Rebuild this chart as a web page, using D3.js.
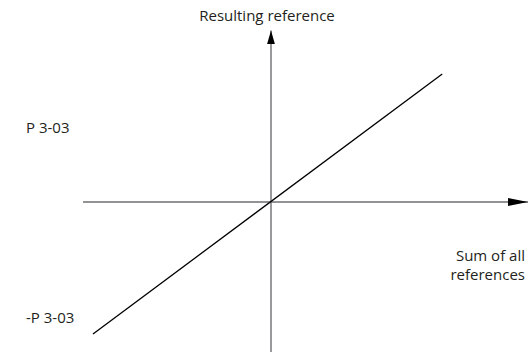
<!DOCTYPE html>
<html>
<head>
<meta charset="utf-8">
<script src="https://cdn.jsdelivr.net/npm/d3@7"></script>
<style>
  body { margin: 0; background: #fff; }
  svg text { font-family: "Open Sans", "Noto Sans", sans-serif; font-size: 15px; fill: #231f20; }
</style>
</head>
<body>
<svg id="chart" width="529" height="352"></svg>
<script>
// characteristic: resulting reference vs. sum of all references
var lineX = [-1, 0.962];
var lineY = [-1, 0.97];

// axis extents (in chart units)
var xAxisExtent = [-1.056, 1.444];
var yAxisExtent = [-1.14, 1.30];

// level labels on the left
var levelNames = ["P 3-03", "-P 3-03"];
var levelValues = [0.56, -0.88];

var xTitle = ["Sum of all", "references"];
var yTitle = "Resulting reference";

var svg = d3.select("#chart");

var x = d3.scaleLinear().domain([-1, 1]).range([93, 449]),
    y = d3.scaleLinear().domain([-1, 1]).range([334, 70]);

var defs = svg.append("defs");
defs.append("marker")
    .attr("id", "arrX")
    .attr("viewBox", "0 0 20 8")
    .attr("refX", 20).attr("refY", 4)
    .attr("markerWidth", 20).attr("markerHeight", 8)
    .attr("markerUnits", "userSpaceOnUse")
    .attr("orient", "auto")
  .append("path")
    .attr("d", "M0,0L20,4L0,8Z")
    .attr("fill", "#000");
defs.append("marker")
    .attr("id", "arrY")
    .attr("viewBox", "0 0 14 8")
    .attr("refX", 14).attr("refY", 4)
    .attr("markerWidth", 14).attr("markerHeight", 8)
    .attr("markerUnits", "userSpaceOnUse")
    .attr("orient", "auto")
  .append("path")
    .attr("d", "M0,0L14,4L0,8Z")
    .attr("fill", "#000");

// axes
svg.append("line")
    .attr("x1", x(xAxisExtent[0])).attr("x2", x(xAxisExtent[1]))
    .attr("y1", y(0)).attr("y2", y(0))
    .attr("stroke", "#6d6e71").attr("stroke-width", 1.4)
    .attr("marker-end", "url(#arrX)");

svg.append("line")
    .attr("x1", x(0)).attr("x2", x(0))
    .attr("y1", y(yAxisExtent[0])).attr("y2", y(yAxisExtent[1]))
    .attr("stroke", "#6d6e71").attr("stroke-width", 1.4)
    .attr("marker-end", "url(#arrY)");

// characteristic line
var line = d3.line()
    .x(function(d) { return x(d[0]); })
    .y(function(d) { return y(d[1]); });

svg.append("path")
    .datum(d3.zip(lineX, lineY))
    .attr("d", line)
    .attr("fill", "none")
    .attr("stroke", "#000")
    .attr("stroke-width", 1.3);

// titles
svg.append("text")
    .attr("x", x(0) - 4)
    .attr("y", 21)
    .attr("text-anchor", "middle")
    .text(yTitle);

svg.selectAll(".xt")
    .data(xTitle)
  .enter().append("text")
    .attr("class", "xt")
    .attr("x", 525)
    .attr("y", function(d, i) { return 261 + i * 19; })
    .attr("text-anchor", "end")
    .text(function(d) { return d; });

svg.selectAll(".lvl")
    .data(levelNames)
  .enter().append("text")
    .attr("class", "lvl")
    .attr("x", 26)
    .attr("y", function(d, i) { return y(levelValues[i]); })
    .attr("dy", "0.35em")
    .text(function(d) { return d; });
</script>
</body>
</html>
